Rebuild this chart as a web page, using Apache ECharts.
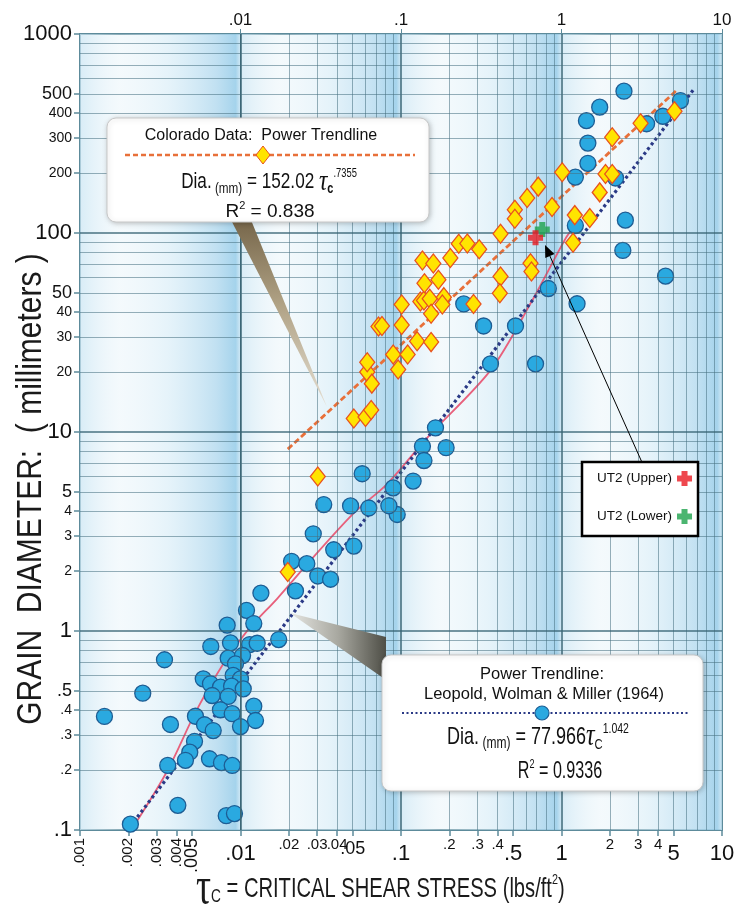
<!DOCTYPE html>
<html><head><meta charset="utf-8">
<script src="https://cdn.jsdelivr.net/npm/echarts@6/dist/echarts.min.js"></script>
<style>html,body{margin:0;padding:0;background:#fff}#c{width:746px;height:905px}</style>
</head><body><div id="c"></div>
<script>
const NARROW = "'Liberation Sans Narrow','Arial Narrow','Liberation Sans',Arial,sans-serif";
const SANS = "'Liberation Sans',Arial,sans-serif";
const SERIF = "'Liberation Serif','DejaVu Serif',serif";

// ---- data (tau_c lbs/ft2, grain diameter mm) ----
const leopoldPoints = [[0.0134,1.55],[0.0109,1.27],[0.0121,1.09],[0.00826,1.07],[0.0173,0.906],[0.00653,0.836],[0.00866,0.872],[0.0114,0.855],[0.0127,0.868],[0.00336,0.717],[0.00838,0.73],[0.0103,0.753],[0.00931,0.684],[0.0090,0.598],[0.0100,0.575],[0.00586,0.575],[0.0065,0.543],[0.0075,0.522],[0.0088,0.528],[0.0104,0.512],[0.00666,0.474],[0.00838,0.469],[0.00246,0.487],[0.00142,0.372],[0.00524,0.373],[0.0075,0.402],[0.00888,0.384],[0.0121,0.419],[0.0124,0.355],[0.00366,0.339],[0.00597,0.338],[0.00676,0.316],[0.0100,0.331],[0.00517,0.279],[0.00483,0.246],[0.00454,0.224],[0.00352,0.211],[0.00641,0.228],[0.00761,0.218],[0.00888,0.211],[0.00407,0.133],[0.00815,0.118],[0.00917,0.121],[0.00206,0.107],
[0.022,1.59],[0.0208,2.24],[0.0259,2.18],[0.0303,1.89],[0.0364,1.82],[0.0284,3.08],[0.0381,2.56],[0.0508,2.67],[0.033,4.32],[0.0485,4.25],[0.063,4.15],[0.0573,6.17],[0.0947,3.85],[0.084,4.26],[0.0894,5.24],[0.119,5.67],[0.136,8.48],[0.139,7.19],[0.164,10.5],[0.191,8.34],[0.246,44],[0.327,34.1],[0.517,34.1],[0.361,22],[0.689,22],[0.828,52.6],[1.25,44.1],[1.22,109],[1.22,191],[1.46,224],[1.46,283],[1.43,367],[1.73,429],[2.45,516],[2.17,189],[3.39,354],[4.28,386],[5.51,463],[2.5,116],[2.41,81.7],[4.45,60.7]];
const coloradoPoints = [[0.0197,1.98],[0.0303,5.98],[0.0508,11.7],[0.0601,11.9],[0.0652,12.9],[0.0616,20],[0.0616,22.4],[0.0658,17.5],[0.0724,33.9],[0.0761,34.1],[0.0894,24.5],[0.110,24.5],[0.096,20.6],[0.101,43.7],[0.101,34.5],[0.126,28.6],[0.154,28.3],[0.132,45.3],[0.139,45.8],[0.151,46.7],[0.154,39.3],[0.14,55.9],[0.171,58.2],[0.185,47.6],[0.181,43.7],[0.136,72.7],[0.159,70.3],[0.203,74.9],[0.229,88.3],[0.259,88.6],[0.307,82.9],[0.283,44],[0.417,99.1],[0.417,60.4],[0.413,49.8],[0.512,131],[0.512,118],[0.611,150],[0.716,171],[0.873,135],[1.01,202],[0.641,70.5],[0.65,64],[1.18,89.3],[1.21,123],[1.5,119],[1.73,160],[1.88,198],[2.07,198],[2.07,303],[3.11,356],[5.06,409]];
const ut2Upper = [[0.689,94.6]];
const ut2Lower = [[0.759,104]];
const coloradoTrend = [[0.0197,8.2],[5.2,520]];
const leopoldTrend = [[0.00205,0.104],[6.7,530]];
const envelopeCurve = [[0.00222,0.108],[0.00351,0.199],[0.00524,0.39],[0.00784,0.687],[0.0111,1.01],[0.017,1.46],[0.0262,2.18],[0.0506,3.9],[0.0824,5.51],[0.146,9.38],[0.361,20.4],[0.641,44.2],[1.06,93.8],[1.19,107]];

// ---- tick labels ----
const yTickValues = [0.1,0.2,0.3,0.4,0.5,1,2,3,4,5,10,20,30,40,50,100,200,300,400,500,1000];
const yTickText = ['.1','.2','.3','.4','.5','1','2','3','4','5','10','20','30','40','50','100','200','300','400','500','1000'];
const xTickValues = [0.01,0.02,0.03,0.04,0.05,0.1,0.2,0.3,0.4,0.5,1,2,3,4,5,10];
const xTickText = ['.01','.02','.03','.04','.05','.1','.2','.3','.4','.5','1','2','3','4','5','10'];
const xRotValues = [0.001,0.002,0.003,0.004];
const xRotText = ['.001','.002','.003','.004'];
const xRot5Values = [0.005];
const xRot5Text = ['.005'];
const xTopValues = [0.01,0.1,1,10];
const xTopText = ['.01','.1','1','10'];

function idxOf(vals, v){ let best=0, bd=1e9; vals.forEach((t,i)=>{const d=Math.abs(Math.log10(t)-Math.log10(v)); if(d<bd){bd=d;best=i;}}); return best; }
function mant(v){ return Math.round(v/Math.pow(10,Math.floor(Math.log10(v)+1e-9))); }

// grid lines
const gridLines = [];
for (let d=-3; d<=0; d++) for (let m=1; m<=9; m++) {
  const v = m*Math.pow(10,d); if (m===1 && d===-3) continue;
  gridLines.push({xAxis:v, lineStyle:{color: m===1?'rgba(55,100,115,0.9)':'rgba(70,112,128,0.55)', width: m===1?1.6:1, type:'solid'}});
}
for (let d=-1; d<=2; d++) for (let m=1; m<=9; m++) {
  const v = m*Math.pow(10,d); if (m===1 && d===-1) continue;
  gridLines.push({yAxis:v, lineStyle:{color: m===1?'rgba(55,100,115,0.9)':'rgba(70,112,128,0.55)', width: m===1?1.6:1, type:'solid'}});
}
const bandAreas = [];
for (let d=-3; d<=0; d++) {
  bandAreas.push([{xAxis:Math.pow(10,d), itemStyle:{color:{type:'linear',x:0,y:0,x2:1,y2:0,colorStops:[
    {offset:0,color:'rgba(205,231,244,0.7)'},{offset:0.25,color:'rgba(246,251,253,0.3)'},
    {offset:0.55,color:'rgba(218,238,248,0.55)'},{offset:0.85,color:'rgba(180,218,239,0.8)'},
    {offset:0.97,color:'rgba(156,207,234,0.9)'},{offset:1,color:'rgba(200,228,243,0.8)'}]}}},
    {xAxis:Math.pow(10,d+1)}]);
}

const CROSS = 'path://M6,0H14V6H20V14H14V20H6V14H0V6H6Z';

const chart = echarts.init(document.getElementById('c'), null, {renderer:'canvas'});
const axisCol = '#5d8b9b';
function rotAxis(vals, texts, fs){
  return {type:'log', logBase:10, min:0.001, max:10, position:'bottom',
     axisLine:{show:false}, splitLine:{show:false}, axisTick:{show:false},
     axisLabel:{customValues:vals, rotate:90, margin:8, color:'#111', fontFamily:SANS, fontSize:fs, hideOverlap:false, showMinLabel:true, showMaxLabel:true,
       formatter:function(v){ return texts[idxOf(vals,v)]; }}};
}
const option = {
  animation:false,
  backgroundColor:'#ffffff',
  grid:{left:80, top:34, right:24, bottom:75, show:true, backgroundColor:'#f3f9fc', borderColor:axisCol, borderWidth:2, containLabel:false, outerBoundsMode:'none'},
  legend:{data:['UT2 (Upper)','UT2 (Lower)'], orient:'vertical', align:'right', left:582, top:462, z:60,
    padding:[9,6,12,15], itemGap:23, itemWidth:15, itemHeight:15, borderColor:'#000', borderWidth:2.5, backgroundColor:'#fff',
    textStyle:{fontSize:13.5, fontFamily:SANS, color:'#111'}, selectedMode:false},
  xAxis:[
    {type:'log', logBase:10, min:0.001, max:10, position:'bottom',
     axisLine:{show:false}, splitLine:{show:false},
     axisTick:{show:true, length:6, customValues:xRotValues.concat(xRot5Values, xTickValues), lineStyle:{color:axisCol, width:1.5}},
     axisLabel:{customValues:xTickValues, margin:7, color:'#111', fontFamily:NARROW, hideOverlap:false, showMinLabel:true, showMaxLabel:true,
       formatter:function(v){ const i=idxOf(xTickValues,v); const t=xTickText[i]; const m=mant(v);
         const big = (m===1)||(t==='.5')||(t==='5'); const mid = (t==='.05');
         return '{'+(big?'b':(mid?'m':'s'))+'|'+t+'}'; },
       rich:{b:{fontSize:22, fontFamily:NARROW, color:'#111', padding:[6,0,0,0]}, m:{fontSize:18, fontFamily:NARROW, color:'#111', padding:[3,0,0,0]}, s:{fontSize:15, fontFamily:NARROW, color:'#111'}}}},
    rotAxis(xRotValues, xRotText, 15),
    rotAxis(xRot5Values, xRot5Text, 18),
    {type:'log', logBase:10, min:0.001, max:10, position:'top',
     axisLine:{show:false}, splitLine:{show:false},
     axisTick:{show:true, length:5, customValues:xTopValues, lineStyle:{color:axisCol}},
     axisLabel:{customValues:xTopValues, margin:5, fontSize:17, fontFamily:NARROW, color:'#111', hideOverlap:false, showMinLabel:true, showMaxLabel:true,
       formatter:function(v){ return xTopText[idxOf(xTopValues,v)]; }}}
  ],
  yAxis:[{type:'log', logBase:10, min:0.1, max:1000,
    axisLine:{show:false}, splitLine:{show:false},
    axisTick:{show:true, length:6, customValues:yTickValues, lineStyle:{color:axisCol, width:1.5}},
    axisLabel:{customValues:yTickValues, margin:8, color:'#111', fontFamily:NARROW, hideOverlap:false, showMinLabel:true, showMaxLabel:true,
      formatter:function(v){ const i=idxOf(yTickValues,v); const m=mant(v); return '{'+(m===1?'b':(m===5?'m':'s'))+'|'+yTickText[i]+'}'; },
      rich:{b:{fontSize:22, fontFamily:NARROW, color:'#111'}, m:{fontSize:18, fontFamily:NARROW, color:'#111'}, s:{fontSize:14, fontFamily:NARROW, color:'#111'}}}}],
  series:[
    {type:'scatter', name:'bands', data:[], silent:true, z:1, markArea:{silent:true, data:bandAreas}},
    {type:'scatter', name:'gridlines', data:[], silent:true, z:2, markLine:{silent:true, symbol:['none','none'], label:{show:false}, emphasis:{disabled:true}, data:gridLines}},
    {type:'line', name:'envelope', data:envelopeCurve, smooth:0.3, showSymbol:false, symbol:'none', silent:true, z:3, lineStyle:{color:'#e8607c', width:1.8}},
    {type:'line', name:'Colorado trend', data:coloradoTrend, showSymbol:false, symbol:'none', silent:true, z:3, lineStyle:{color:'#e8703a', width:2.8, type:[6,3]}},
    {type:'line', name:'Leopold trend', data:leopoldTrend, showSymbol:false, symbol:'none', silent:true, z:3, lineStyle:{color:'#2b3a86', width:3.2, type:[3,3]}},
    {type:'scatter', name:'Leopold', data:leopoldPoints, symbol:'circle', symbolSize:16, z:4, silent:true,
      itemStyle:{color:'#2aa9e0', borderColor:'#1d5d94', borderWidth:1.3, opacity:1}},
    {type:'scatter', name:'Colorado', data:coloradoPoints, symbol:'diamond', symbolSize:[15,19], z:5, silent:true,
      itemStyle:{color:'#ffe400', borderColor:'#e8521e', borderWidth:1.3, opacity:1}},
    {type:'scatter', name:'UT2 (Lower)', data:ut2Lower, symbol:CROSS, symbolSize:15, z:6, silent:true, itemStyle:{color:'#1ea24c'}},
    {type:'scatter', name:'UT2 (Upper)', data:ut2Upper, symbol:CROSS, symbolSize:15, z:7, silent:true, itemStyle:{color:'#ea1a22'}}
  ],
  graphic:[
    // Colorado callout
    {type:'polygon', z:50, shape:{points:[[231,220],[251,220],[327,407]]},
     style:{fill:new echarts.graphic.LinearGradient(0,0,0,1,[{offset:0,color:'#76664a'},{offset:0.45,color:'#b0a285'},{offset:1,color:'#e4ded2'}])}},
    {type:'rect', z:51, shape:{x:107,y:118,width:322,height:104,r:9},
     style:{fill:'#ffffff', stroke:'#c9c9c9', lineWidth:1, shadowBlur:5, shadowColor:'rgba(0,0,0,0.22)', shadowOffsetX:1, shadowOffsetY:1}},
    {type:'text', z:52, x:261, y:136, style:{text:'Colorado Data:  Power Trendline', fontSize:16, fontFamily:SANS, fill:'#111', align:'center', verticalAlign:'middle'}},
    {type:'line', z:52, shape:{x1:125,y1:155,x2:415,y2:155}, style:{stroke:'#e8703a', lineWidth:2.5, lineDash:[5,3]}},
    {type:'polygon', z:53, shape:{points:[[263,146],[270,155],[263,164],[256,155]]}, style:{fill:'#ffe400', stroke:'#e8521e', lineWidth:1}},
    {type:'text', z:52, x:269, y:182, scaleX:0.78,
     style:{text:'{a|Dia.}{b| (mm)}{a| = 152.02 }{t|τ}{s|c}{p|.7355}', align:'center', verticalAlign:'middle', fill:'#111',
       rich:{a:{fontSize:22, fontFamily:SANS, fill:'#111', lineHeight:28, verticalAlign:'middle'},
             b:{fontSize:15, fontFamily:SANS, fill:'#111', lineHeight:22, verticalAlign:'bottom'},
             t:{fontSize:30, fontFamily:SERIF, fontStyle:'italic', fill:'#111', lineHeight:28, verticalAlign:'middle'},
             s:{fontSize:14, fontFamily:SANS, fontWeight:'bold', fill:'#111', lineHeight:16, verticalAlign:'bottom'},
             p:{fontSize:12, fontFamily:SANS, fill:'#111', lineHeight:14, verticalAlign:'top'}}}},
    {type:'text', z:52, x:270, y:212,
     style:{text:'{a|R}{p|2}{a| = 0.838}', align:'center', verticalAlign:'middle', fill:'#111',
       rich:{a:{fontSize:19, fontFamily:SANS, fill:'#111', lineHeight:24, verticalAlign:'middle'},
             p:{fontSize:11, fontFamily:SANS, fill:'#111', lineHeight:12, verticalAlign:'top'}}}},
    // Leopold callout
    {type:'polygon', z:50, shape:{points:[[290,613],[386,637],[386,680]]},
     style:{fill:new echarts.graphic.LinearGradient(0,0,1,0,[{offset:0,color:'#e6e6e2'},{offset:0.5,color:'#a8a8a0'},{offset:1,color:'#4e4e46'}])}},
    {type:'rect', z:51, shape:{x:382,y:655,width:321,height:136,r:9},
     style:{fill:'#ffffff', stroke:'#c9c9c9', lineWidth:1, shadowBlur:5, shadowColor:'rgba(0,0,0,0.22)', shadowOffsetX:1, shadowOffsetY:1}},
    {type:'text', z:52, x:542, y:674, style:{text:'Power Trendline:', fontSize:16.5, fontFamily:SANS, fill:'#111', align:'center', verticalAlign:'middle'}},
    {type:'text', z:52, x:544, y:694, style:{text:'Leopold, Wolman & Miller (1964)', fontSize:16.5, fontFamily:SANS, fill:'#111', align:'center', verticalAlign:'middle'}},
    {type:'line', z:52, shape:{x1:402,y1:713,x2:688,y2:713}, style:{stroke:'#2b3a86', lineWidth:2.2, lineDash:[2,2.5]}},
    {type:'circle', z:53, shape:{cx:542,cy:713,r:7}, style:{fill:'#2aa9e0', stroke:'#1d5d94', lineWidth:1.2}},
    {type:'text', z:52, x:538, y:737, scaleX:0.75,
     style:{text:'{a|Dia.}{b| (mm)}{a| = 77.966}{t|τ}{s|C}{p|1.042}', align:'center', verticalAlign:'middle', fill:'#111',
       rich:{a:{fontSize:24, fontFamily:SANS, fill:'#111', lineHeight:30, verticalAlign:'middle'},
             b:{fontSize:16, fontFamily:SANS, fill:'#111', lineHeight:24, verticalAlign:'bottom'},
             t:{fontSize:32, fontFamily:SERIF, fontStyle:'italic', fill:'#111', lineHeight:30, verticalAlign:'middle'},
             s:{fontSize:15, fontFamily:SANS, fill:'#111', lineHeight:17, verticalAlign:'bottom'},
             p:{fontSize:14, fontFamily:SANS, fill:'#111', lineHeight:15, verticalAlign:'top'}}}},
    {type:'text', z:52, x:560, y:772, scaleX:0.7,
     style:{text:'{a|R}{p|2}{a| = 0.9336}', align:'center', verticalAlign:'middle', fill:'#111',
       rich:{a:{fontSize:23, fontFamily:SANS, fill:'#111', lineHeight:28, verticalAlign:'middle'},
             p:{fontSize:13, fontFamily:SANS, fill:'#111', lineHeight:14, verticalAlign:'top'}}}},
    // arrow to UT2
    {type:'line', z:55, shape:{x1:641.7,y1:461.7,x2:549.9,y2:256}, style:{stroke:'#000', lineWidth:1}},
    {type:'polygon', z:55, shape:{points:[[545,245],[554.5,254],[545.3,258]]}, style:{fill:'#000'}},
    // axis titles
    {type:'text', z:40, x:31, y:489, rotation:Math.PI/2, scaleY:1.15,
     style:{text:'GRAIN  DIAMETER:  ( millimeters )', fontSize:30, fontFamily:SANS, fill:'#1a1a1a', align:'center', verticalAlign:'middle'}},
    {type:'text', z:40, x:196, y:889, scaleX:0.72,
     style:{text:'{t|τ}{c|C}{m| = CRITICAL SHEAR STRESS (lbs/ft}{p|2}{m|)}', align:'left', verticalAlign:'middle', fill:'#1a1a1a',
       rich:{t:{fontSize:52, fontFamily:SERIF, fill:'#1a1a1a', lineHeight:34, verticalAlign:'middle'},
             c:{fontSize:19, fontFamily:SANS, fill:'#1a1a1a', lineHeight:20, verticalAlign:'bottom'},
             m:{fontSize:28, fontFamily:SANS, fill:'#1a1a1a', lineHeight:34, verticalAlign:'middle'},
             p:{fontSize:15, fontFamily:SANS, fill:'#1a1a1a', lineHeight:16, verticalAlign:'top'}}}}
  ]
};
chart.setOption(option);
</script></body></html>
